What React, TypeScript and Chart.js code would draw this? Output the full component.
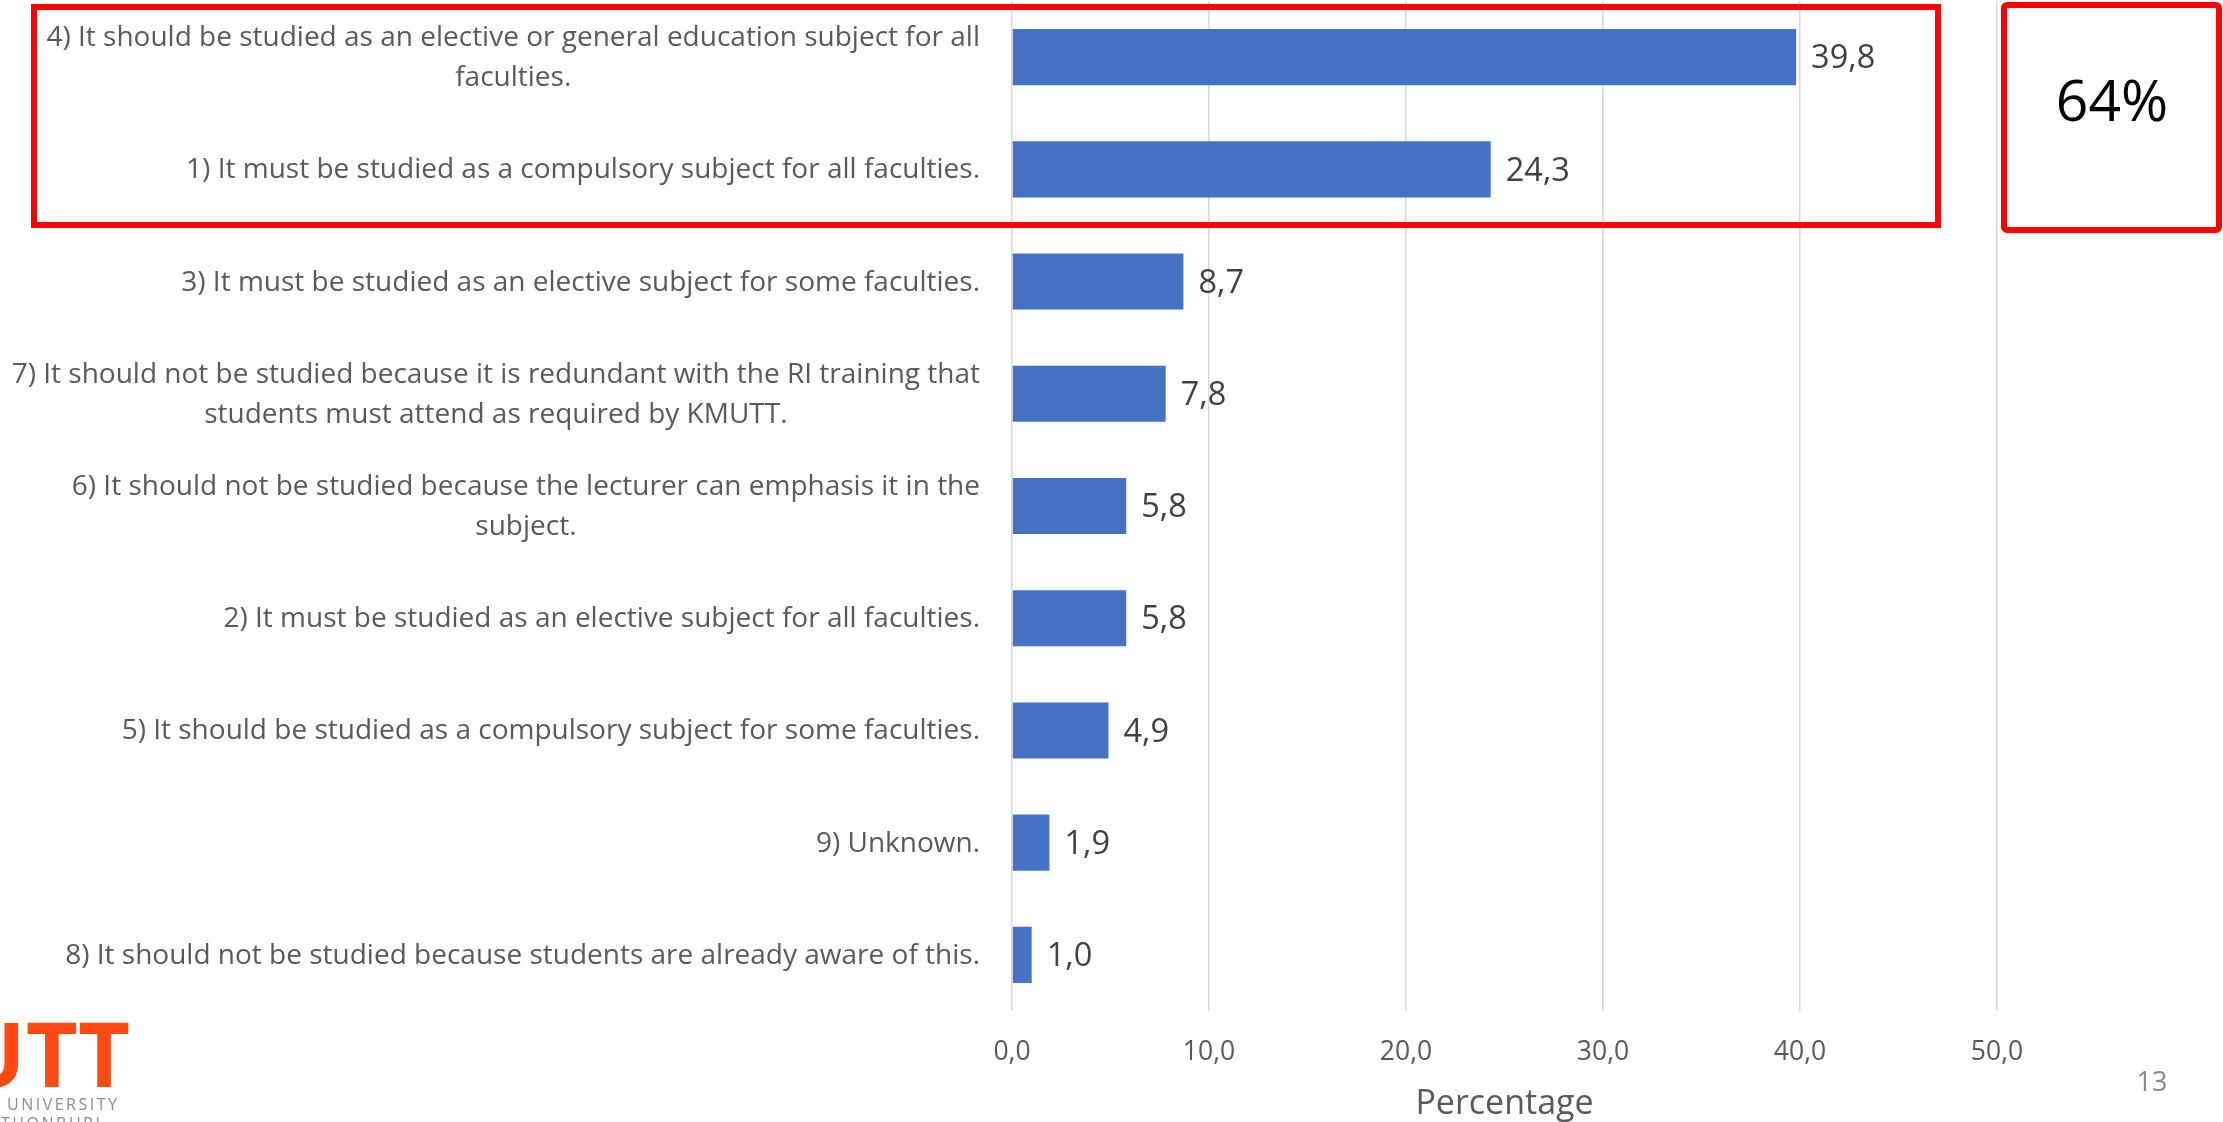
import React, { useEffect, useRef } from "react";
import { Chart, registerables } from "chart.js";

Chart.register(...registerables);

// ---- data ----
const categories: (string | string[])[] = [
  ["4) It should be studied as an elective or general education subject for all", "faculties."],
  "1) It must be studied as a compulsory subject for all faculties.",
  "3) It must be studied as an elective subject for some faculties.",
  ["7) It should not be studied because it is redundant with the RI training that", "students must attend as required by KMUTT."],
  ["6) It should not be studied because the lecturer can emphasis it in the", "subject."],
  "2) It must be studied as an elective subject for all faculties.",
  "5) It should be studied as a compulsory subject for some faculties.",
  "9) Unknown.",
  "8) It should not be studied because students are already aware of this.",
];
const values = [39.8, 24.3, 8.7, 7.8, 5.8, 5.8, 4.9, 1.9, 1.0];
const xTicks = [0, 10, 20, 30, 40, 50];
const xTitle = "Percentage";
const highlightText = "64%";
const pageNumber = "13";
const logoText = "KMUTT";
const logoSub1 = "UNIVERSITY";
const logoSub2 = "THONBURI";

const W = 2223;
const H = 1122;
const FONT = "'Open Sans', 'Noto Sans', sans-serif";
const fmt = (v: number) => Number(v).toFixed(1).replace(".", ",");

const labelsPlugin = {
  id: "customLabels",
  afterDatasetsDraw(chart: any) {
    const ctx = chart.ctx;
    const meta = chart.getDatasetMeta(0);
    ctx.save();
    ctx.font = `32.5px ${FONT}`;
    ctx.fillStyle = "#404040";
    ctx.textAlign = "left";
    ctx.textBaseline = "middle";
    meta.data.forEach((bar: any, i: number) => {
      ctx.fillText(fmt(values[i]), bar.x + 15, bar.y + 2);
    });
    ctx.restore();
  },
  afterDraw(chart: any) {
    const ctx = chart.ctx;
    const ys = chart.scales.y;
    const area = chart.chartArea;
    ctx.save();
    ctx.font = `28px ${FONT}`;
    ctx.fillStyle = "#595959";
    ctx.textBaseline = "middle";
    ctx.textAlign = "center";
    const rightEdge = area.left - 32;
    categories.forEach((lab, i) => {
      const lines = Array.isArray(lab) ? lab : [lab];
      const y = ys.getPixelForTick(i);
      const maxW = Math.max(...lines.map((l) => ctx.measureText(l).width));
      const cx = rightEdge - maxW / 2;
      lines.forEach((l, j) => {
        ctx.fillText(l, cx, y + 1 + (j - (lines.length - 1) / 2) * 40);
      });
    });

    // red highlight boxes
    ctx.strokeStyle = "#FF0000";
    ctx.lineWidth = 6;
    ctx.strokeRect(34, 7, 1904, 218);
    ctx.beginPath();
    (ctx as any).roundRect ? (ctx as any).roundRect(2004, 5, 215, 225, 3) : ctx.rect(2004, 5, 215, 225);
    ctx.stroke();

    ctx.fillStyle = "#000000";
    ctx.font = `57px ${FONT}`;
    ctx.textAlign = "center";
    ctx.textBaseline = "alphabetic";
    ctx.fillText(highlightText, 2112, 121);

    // page number
    ctx.fillStyle = "#8A8A8A";
    ctx.font = `27px ${FONT}`;
    ctx.fillText(pageNumber, 2152, 1091);

    // logo (cut off at left edge)
    ctx.fillStyle = "#FF4A14";
    ctx.font = `bold 90px ${FONT}`;
    ctx.textAlign = "right";
    ctx.fillText(logoText, 130, 1087);
    ctx.fillStyle = "#8C8C8C";
    ctx.font = `16px ${FONT}`;
    ctx.textAlign = "left";
    (ctx as any).letterSpacing = "2.5px";
    ctx.fillText(logoSub1, 7, 1110);
    ctx.fillText(logoSub2, 1, 1129);
    ctx.restore();
  },
};

export default function App() {
  const ref = useRef<HTMLCanvasElement | null>(null);
  useEffect(() => {
    if (!ref.current) return;
    Chart.defaults.font.family = FONT;
    const chart = new Chart(ref.current, {
      type: "bar",
      data: {
        labels: categories.map((c) => (Array.isArray(c) ? c.join(" ") : c)),
        datasets: [
          {
            data: values,
            backgroundColor: "#4472C4",
            borderWidth: 0,
            categoryPercentage: 0.5,
            barPercentage: 1,
          },
        ],
      },
      options: {
        indexAxis: "y",
        responsive: false,
        animation: false,
        devicePixelRatio: 1,
        layout: { padding: { left: 0, right: 226, top: 1, bottom: 0 } },
        plugins: { legend: { display: false }, tooltip: { enabled: false } },
        scales: {
          x: {
            type: "linear",
            min: 0,
            max: 50,
            afterBuildTicks: (s: any) => {
              s.ticks = xTicks.map((v) => ({ value: v }));
            },
            afterFit: (s: any) => {
              s.height = 111;
            },
            grid: { color: "#D9D9D9", lineWidth: 1.5, drawTicks: false },
            border: { display: false },
            ticks: {
              padding: 26,
              color: "#595959",
              font: { size: 26.5, family: FONT },
              callback: (v: any) => fmt(Number(v)),
              maxRotation: 0,
            },
            title: {
              display: true,
              text: xTitle,
              color: "#595959",
              font: { size: 34, family: FONT, lineHeight: 1.02 },
              padding: 0,
            },
          },
          y: {
            afterFit: (s: any) => {
              s.width = 1012;
            },
            grid: { display: false },
            border: { display: false },
            ticks: { display: false },
          },
        },
      },
      plugins: [labelsPlugin],
    } as any);
    return () => chart.destroy();
  }, []);
  return (
    <div style={{ position: "absolute", left: 0, top: 0, width: W, height: H, background: "#fff", overflow: "hidden" }}>
      <canvas ref={ref} width={W} height={H} style={{ width: W, height: H, display: "block" }} />
    </div>
  );
}
